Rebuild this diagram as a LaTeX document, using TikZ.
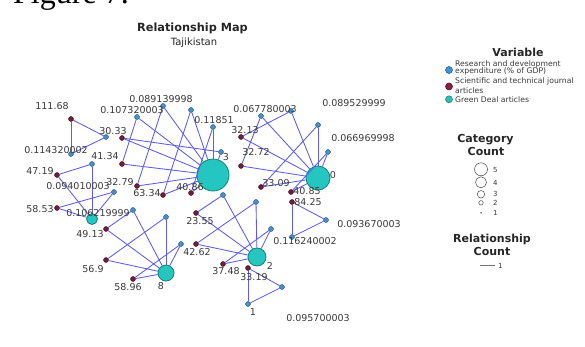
\documentclass[tikz,border=0pt]{standalone}
\usepackage{fontspec}
\setmainfont{DejaVu Sans}
\newfontfamily\figfont{Liberation Serif}
\definecolor{bluefill}{HTML}{4A90C8}
\definecolor{blueedge}{HTML}{1F4E79}
\definecolor{purpfill}{HTML}{6E1F3C}
\definecolor{purpedge}{HTML}{3D0D20}
\definecolor{tealfill}{HTML}{26C6C0}
\definecolor{tealedge}{HTML}{137F7A}
\definecolor{edgecol}{HTML}{5C5CF0}
\definecolor{lblcol}{HTML}{3A3A3A}
\definecolor{legblue}{HTML}{3A96DB}
\definecolor{legmaroon}{HTML}{8C1D45}
\definecolor{legteal}{HTML}{2BBFB8}
\tikzset{
  bnode/.style={circle, fill=bluefill, draw=blueedge, line width=0.4pt, inner sep=0pt, minimum size=5pt},
  pnode/.style={circle, fill=purpfill, draw=purpedge, line width=0.4pt, inner sep=0pt, minimum size=5pt},
  tnode/.style={circle, fill=tealfill, draw=tealedge, line width=0.8pt, inner sep=0pt},
  link/.style={draw=edgecol, line width=0.85pt},
  lbl/.style={font=\fontsize{9.5}{11}\selectfont, text=lblcol, inner sep=0pt},
  legtxt/.style={font=\fontsize{7.7}{7.7}\selectfont, text=lblcol, inner sep=0pt, anchor=west},
  legtitle/.style={font=\bfseries\fontsize{11}{12}\selectfont, text=black!85, inner sep=0pt},
  legnum/.style={font=\fontsize{7}{7}\selectfont, text=lblcol, inner sep=0pt, anchor=west},
  catcirc/.style={circle, draw=black!70, line width=0.5pt, inner sep=0pt, fill=white},
}
\begin{document}
\begin{tikzpicture}[x=1pt,y=-1pt]
\useasboundingbox (0,0) rectangle (585,347);
\fill[white] (0,0) rectangle (585,347);

\node[anchor=base west, font=\figfont\fontsize{32}{34}\selectfont, inner sep=0pt] (fig) at (13,4) {Figure 7.};
\node[font=\bfseries\fontsize{11.3}{12}\selectfont, text=black!85, inner sep=0pt] (title) at (192.5,28) {Relationship Map};
\node[font=\fontsize{10}{11}\selectfont, text=black!85, inner sep=0pt] (sub) at (194,43) {Tajikistan};

% teal nodes
\node[tnode, minimum size=32pt] (T3) at (213,175) {};
\node[tnode, minimum size=24pt] (T0) at (318,178) {};
\node[tnode, minimum size=18pt] (T2) at (257,257) {};
\node[tnode, minimum size=16pt] (T8) at (166,273) {};
\node[tnode, minimum size=11pt] (Ts) at (92,219) {};

% blue nodes
\foreach \n/\x/\y in {b1/106/137, b2/71/154, b3/92/164, b4/114/192, b5/137/117, b6/163/106, b7/191/110, b8/213/127, b9/221/152, b10/261/116, b11/291/111, b12/318/125, b13/328/152, b14/133/210, b15/166/217, b16/181/244, b17/223/195, b18/256/202, b19/271/229, b20/326/220, b21/292/237, b22/282/287, b23/248/304}
  \node[bnode] (\n) at (\x,\y) {};
% purple nodes
\foreach \n/\x/\y in {p1/71/119, p2/57/175, p3/57/208, p4/122/138, p5/122/164, p6/137/186, p7/163/195, p8/191/193, p9/241/137, p10/241/166, p11/261/187, p12/291/192, p13/292/202, p14/106/229, p15/106/260, p16/133/279, p17/196/213, p18/196/244, p19/223/264, p20/248/268}
  \node[pnode] (\n) at (\x,\y) {};

% edges
\foreach \a/\b in {p1/b1, p1/b2, b1/b2, p13/b20, p13/b21, b20/b21, p20/b22, p20/b23, b22/b23,
  Ts/b3, Ts/b4, Ts/p2, Ts/p3, p2/b3, p3/b4,
  T8/b14, T8/b15, T8/b16, T8/p14, T8/p15, T8/p16, b14/p14, b15/p15, b16/p16,
  T2/b17, T2/b18, T2/b19, T2/p17, T2/p18, T2/p19, b17/p17, b18/p18, b19/p19,
  T3/b5, T3/b6, T3/b7, T3/b8, T3/b9, T3/p4, T3/p5, T3/p6, T3/p7, T3/p8, b5/p5, b6/p6, b7/p7, b8/p8, b9/p4,
  T0/b10, T0/b11, T0/b12, T0/b13, T0/p9, T0/p10, T0/p11, T0/p12, b10/p10, b11/p9, b12/p11, b13/p12}
  \draw[link] (\a) -- (\b);

% labels
\foreach \n/\x/\y/\t in {l1/52/106/111.68, l2/56/150/0.114320002, l3/113/131/30.33, l4/105/156/41.34, l5/40/171/47.19, l6/78/186/0.094010003, l7/40/209/58.53, l8/98/213/0.106219999, l9/90/234/49.13, l10/93/269/56.9, l11/128/287/58.96, l12/161/286/8, l13/132/110/0.107320003, l14/161/99/0.089139998, l15/214/120/0.11851, l16/226/157/3, l17/120/182/32.79, l18/147/193/63.34, l19/190/187/40.86, l20/200/221/23.55, l21/197/252/42.62, l22/226/271/37.48, l23/254/277/33.19, l24/270/266/2, l25/253/312/1, l26/318/318/0.095700003, l27/305/241/0.116240002, l28/369/224/0.093670003, l29/308/202/84.25, l30/307/191/40.85, l31/276/183/33.09, l32/256/152/32.72, l33/245/130/32.13, l34/265/109/0.067780003, l35/354/103/0.089529999, l36/363/138/0.066969998, l37/333/175/0}
  \node[lbl] (\n) at (\x,\y) {\t};

% legend: Variable
\node[legtitle] (vart) at (518,52) {Variable};
\node[circle, fill=legblue, draw=blueedge, line width=0.5pt, inner sep=0pt, minimum size=7pt] (lv1) at (449,70) {};
\node[legtxt] (lv1a) at (455,64.8) {Research and development};
\node[legtxt] (lv1b) at (455,71.5) {expenditure (\% of GDP)};
\node[circle, fill=legmaroon, draw=purpedge, line width=0.5pt, inner sep=0pt, minimum size=7pt] (lv2) at (449,86.5) {};
\node[legtxt] (lv2a) at (455,81.7) {Scientific and technical journal};
\node[legtxt] (lv2b) at (455,90.3) {articles};
\node[circle, fill=legteal, draw=tealedge, line width=0.5pt, inner sep=0pt, minimum size=7pt] (lv3) at (449,99.3) {};
\node[legtxt] (lv3a) at (455,99.3) {Green Deal articles};

% legend: Category Count
\node[legtitle] (catt1) at (485.5,139.3) {Category};
\node[legtitle] (catt2) at (486,151) {Count};
\node[catcirc, minimum size=13pt] (c5) at (481,169.3) {};
\node[catcirc, minimum size=11pt] (c4) at (481,182.3) {};
\node[catcirc, minimum size=7.5pt] (c3) at (481,194.3) {};
\node[catcirc, minimum size=4.5pt] (c2) at (481,202.8) {};
\node[circle, fill=black!70, inner sep=0pt, minimum size=1.6pt] (c1) at (481,212.8) {};
\node[legnum] (n5) at (493,169.5) {5};
\node[legnum] (n4) at (493,182.7) {4};
\node[legnum] (n3) at (493,194.3) {3};
\node[legnum] (n2) at (493,203.3) {2};
\node[legnum] (n1) at (493,213.3) {1};

% legend: Relationship Count
\node[legtitle] (relt1) at (492,239) {Relationship};
\node[legtitle] (relt2) at (492,251) {Count};
\coordinate (rl1) at (480,265);
\coordinate (rl2) at (495,265);
\draw[black!55, line width=0.8pt] (rl1) -- (rl2);
\node[legnum] (rn1) at (498,265.5) {1};
\end{tikzpicture}
\end{document}
